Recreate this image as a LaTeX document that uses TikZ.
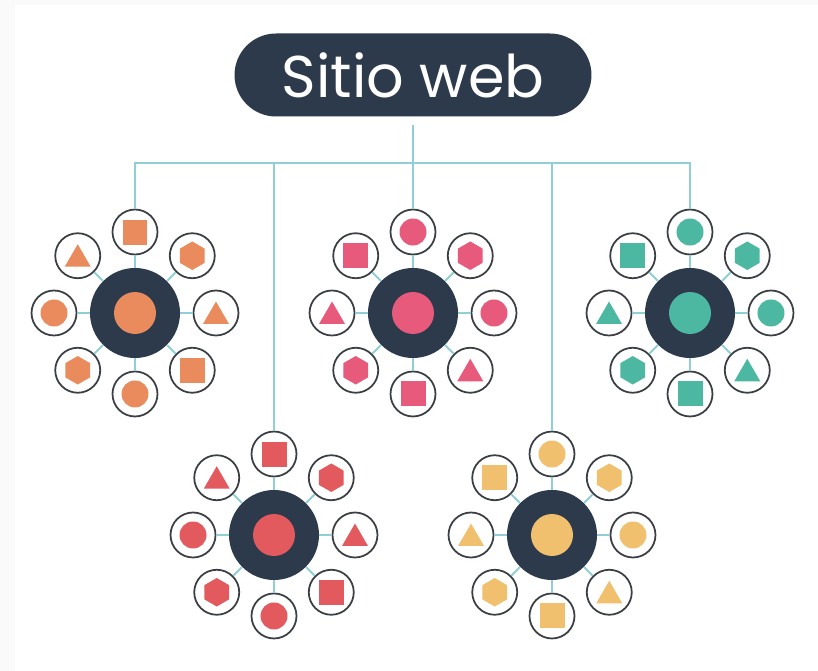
\documentclass[tikz,border=0pt]{standalone}
\usepackage{fontspec}
\usepackage{tikz}
\usetikzlibrary{shapes,positioning}
\newfontfamily\titlefont{Poppins}

\definecolor{navy}{HTML}{2C3A4B}
\definecolor{ringgray}{HTML}{3B3F44}
\definecolor{linkblue}{HTML}{8FCFD5}
\definecolor{cOrange}{HTML}{E98B5C}
\definecolor{cPink}{HTML}{E75A7C}
\definecolor{cTeal}{HTML}{4DB8A2}
\definecolor{cRed}{HTML}{E2595E}
\definecolor{cYellow}{HTML}{F0C06E}

\tikzset{
  pill/.style={fill=navy, rounded corners=0.83cm, minimum width=7.14cm, minimum height=1.66cm,
    text=white, font=\titlefont\fontsize{33.5}{40}\selectfont},
  tree/.style={draw=linkblue, line width=1.1pt},
  spoke/.style={draw=linkblue, line width=1.1pt},
  hub/.style={circle, fill=navy, minimum size=1.8cm, inner sep=0pt},
  hubdot/.style={circle, minimum size=0.84cm, inner sep=0pt},
  sat/.style={circle, draw=ringgray, fill=white, line width=1pt, minimum size=0.9cm, inner sep=0pt},
  gsq/.style={rectangle, minimum size=0.5cm, inner sep=0pt},
  gdot/.style={circle, minimum size=0.54cm, inner sep=0pt},
  ghex/.style={regular polygon, regular polygon sides=6, shape border rotate=30, minimum size=0.57cm, inner sep=0pt},
  gtri/.style={regular polygon, regular polygon sides=3, minimum size=0.6cm, inner sep=0pt, yshift=-0.07cm}
}

% glyphs round each hub, from the top, clockwise
\def\listA{1/90/gsq,2/45/ghex,3/0/gtri,4/-45/gsq,5/-90/gdot,6/-135/ghex,7/180/gdot,8/135/gtri}
\def\listB{1/90/gdot,2/45/ghex,3/0/gdot,4/-45/gtri,5/-90/gsq,6/-135/ghex,7/180/gtri,8/135/gsq}

\begin{document}
\begin{tikzpicture}[x=0.02cm, y=-0.02cm]
  % page
  \fill[black!2] (0,0) rectangle (818,671);
  \fill[white] (15,5) rectangle (818,671);
  \useasboundingbox (0,0) rectangle (818,671);

  \node[pill] (site) at (413,75) {Sitio web};

  % clusters
  \foreach \n/\x/\y/\col/\kind in {o/135/313/cOrange/A, p/413/313/cPink/B, t/690/313/cTeal/B,
                                  r/274/535/cRed/A, y/552/535/cYellow/B} {
    \node[hub] (\n-hub) at (\x,\y) {};
    \node[hubdot, fill=\col] (\n-dot) at (\n-hub) {};
    \expandafter\let\expandafter\shapelist\csname list\kind\endcsname
    \foreach \i/\a/\s in \shapelist {
      \node[sat] (\n-\i) at ([shift={(\a:1.62cm)}]\n-hub) {};
      \draw[spoke] (\n-hub) -- (\n-\i);
      \node[\s, fill=\col] (\n-g\i) at (\n-\i) {};
    }
  }

  % tree
  \coordinate (bus) at (413,163);
  \draw[tree, shorten <=0.16cm] (site) -- (bus);
  \draw[tree] (o-1) -- (o-1 |- bus) -- (t-1 |- bus) -- (t-1);
  \draw[tree] (p-1) -- (bus);
  \draw[tree] (r-1) -- (r-1 |- bus);
  \draw[tree] (y-1) -- (y-1 |- bus);
\end{tikzpicture}
\end{document}
